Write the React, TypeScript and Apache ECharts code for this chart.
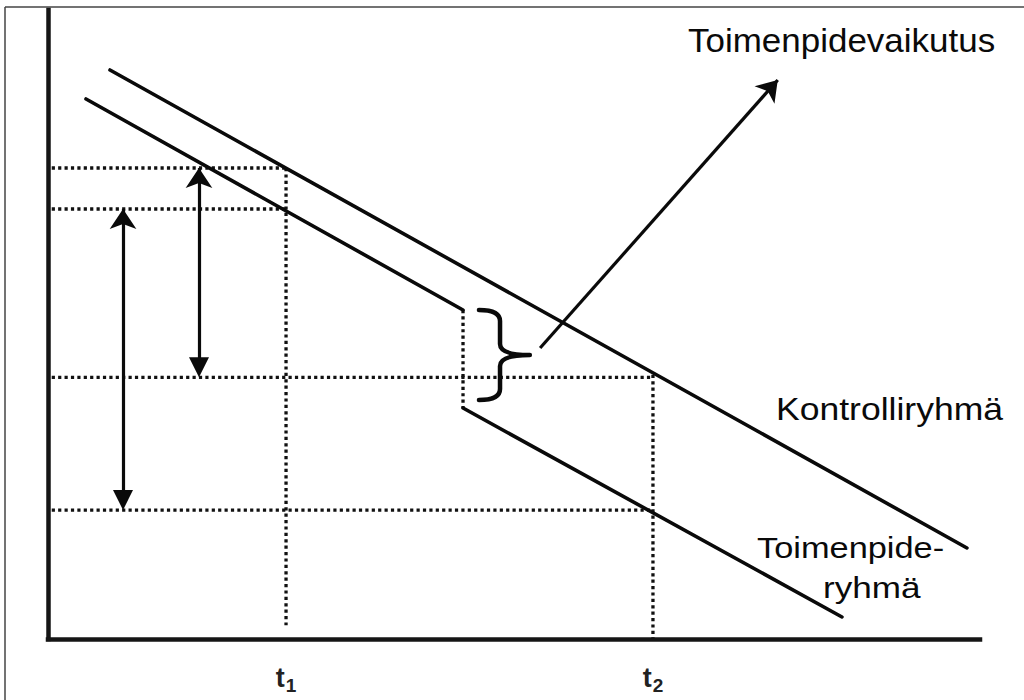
import React, { useEffect, useRef } from "react";
import * as echarts from "echarts";

// ---- data (chart units: x 0..100 time, y 0..100 outcome) ----
const controlX = [6.65, 98.6];
const controlY = [90.46, 14.47];
const treatPreX = [4.08, 44.53];
const treatPreY = [85.85, 52.31];
const treatPostX = [44.53, 85.19];
const treatPostY = [36.72, 3.5];
const timePoints = [25.54, 64.91];
const tickSubscripts = ["1", "2"];
const levelControlT1 = 74.88;
const levelTreatT1 = 68.36;
const levelControlT2 = 41.6;
const levelTreatT2 = 20.5;
const guideStartX = 0.4;
const t1GuideEndY = 2.2;
const diffArrowX = [8.05, 16.2];
const effectArrowFrom = [52.8, 46.26];
const effectArrowTo = [78.3, 88.87];
const braceValues = [46.24, 52.3, 48.5, 51.7, 45.15, 38.0];
const labelControl = "Kontrolliryhmä";
const labelTreat1 = "Toimenpide-";
const labelTreat2 = "ryhmä";
const labelEffect = "Toimenpidevaikutus";

const FONT = "'Liberation Sans', Arial, Helvetica, sans-serif";
const INK = "#0a0a0a";
const DOT = "#111";
const GRID_H = 629; // px height of plot area for 100 y-units
const HEAD = 20; // arrow head size px
const headShift = (HEAD / 2) * (100 / GRID_H);

function solid(name: string, xs: number[], ys: number[]) {
  return {
    name,
    type: "line",
    data: xs.map((x, i) => [x, ys[i]]),
    symbol: "none",
    silent: true,
    lineStyle: { width: 3.6, color: INK, cap: "round" },
    z: 5,
  };
}

function dotted(p1: number[], p2: number[]) {
  return {
    type: "line",
    data: [p1, p2],
    symbol: "none",
    silent: true,
    lineStyle: { width: 3.3, color: DOT, type: [3.2, 3.2], cap: "butt" },
    z: 3,
  };
}

function label(text: string, x: number, baseline: number, size: number, sx: number) {
  return {
    type: "text",
    x,
    y: baseline - size * 0.35,
    scaleX: sx,
    silent: true,
    style: {
      text,
      x: 0,
      y: 0,
      fill: INK,
      font: `${size}px ${FONT}`,
      textAlign: "left",
      textVerticalAlign: "middle",
    },
  };
}

export default function App() {
  const ref = useRef<HTMLDivElement>(null);
  useEffect(() => {
    if (!ref.current) return;
    const chart = echarts.init(ref.current, undefined, { renderer: "svg" });
    const option: any = {
      animation: false,
      backgroundColor: "#fff",
      grid: { left: 48, top: 10, width: 932, height: GRID_H, containLabel: false },
      xAxis: {
        type: "value",
        min: 0,
        max: 100,
        splitLine: { show: false },
        axisTick: { show: false },
        axisLine: { show: true, onZero: false, lineStyle: { color: "#151515", width: 4.5, cap: "square" } },
        axisLabel: {
          show: true,
          customValues: timePoints,
          margin: 22,
          formatter: (v: number) => {
            const i = timePoints.findIndex((t) => Math.abs(t - v) < 1e-6);
            return `{t|t}{s|${tickSubscripts[i] ?? ""}}`;
          },
          rich: {
            t: { fontSize: 27, fontFamily: FONT, fontWeight: "bold", color: "#222", lineHeight: 34, verticalAlign: "middle" },
            s: { fontSize: 19, fontFamily: FONT, fontWeight: "bold", color: "#222", lineHeight: 34, verticalAlign: "bottom", padding: [12, 0, 0, 1] },
          },
        },
      },
      yAxis: {
        type: "value",
        min: 0,
        max: 100,
        splitLine: { show: false },
        axisTick: { show: false },
        axisLabel: { show: false },
        axisLine: { show: true, onZero: false, lineStyle: { color: "#151515", width: 4.5, cap: "square" } },
      },
      series: [
        solid(labelControl, controlX, controlY),
        solid(labelTreat1 + labelTreat2 + " (ennen)", treatPreX, treatPreY),
        solid(labelTreat1 + labelTreat2 + " (jälkeen)", treatPostX, treatPostY),
        dotted([guideStartX, levelControlT1], [timePoints[0], levelControlT1]),
        dotted([guideStartX, levelTreatT1], [timePoints[0], levelTreatT1]),
        dotted([guideStartX, levelControlT2], [timePoints[1], levelControlT2]),
        dotted([guideStartX, levelTreatT2], [timePoints[1], levelTreatT2]),
        dotted([timePoints[0], levelControlT1], [timePoints[0], t1GuideEndY]),
        dotted([timePoints[1], levelControlT2 + 0.4], [timePoints[1], 0]),
        dotted([treatPreX[1], treatPreY[1]], [treatPostX[0], treatPostY[0]]),
        {
          type: "line",
          data: [],
          silent: true,
          markLine: {
            silent: true,
            animation: false,
            label: { show: false },
            emphasis: { disabled: true },
            lineStyle: { color: INK, width: 3.2, type: "solid" },
            symbol: ["arrow", "triangle"],
            symbolSize: HEAD,
            data: [
              [
                { coord: [diffArrowX[0], levelTreatT1] },
                { coord: [diffArrowX[0], levelTreatT2 + headShift] },
              ],
              [
                { coord: [diffArrowX[1], levelControlT1] },
                { coord: [diffArrowX[1], levelControlT2 + headShift] },
              ],
              [
                { coord: effectArrowFrom, symbol: "none" },
                { coord: effectArrowTo, symbol: "arrow", symbolSize: HEAD },
              ],
            ],
          },
        },
        {
          type: "custom",
          silent: true,
          data: [braceValues],
          z: 6,
          renderItem: (_p: any, api: any) => {
            const top = api.coord([api.value(0), api.value(1)]);
            const tip = api.coord([api.value(3), api.value(4)]);
            const bot = api.coord([api.value(0), api.value(5)]);
            const xs = api.coord([api.value(2), 0])[0];
            const r = 11;
            const d =
              `M${top[0]},${top[1]} Q${xs},${top[1]} ${xs},${top[1] + r} ` +
              `L${xs},${tip[1] - r} Q${xs},${tip[1]} ${tip[0]},${tip[1]} ` +
              `Q${xs},${tip[1]} ${xs},${tip[1] + r} ` +
              `L${xs},${bot[1] - r} Q${xs},${bot[1]} ${bot[0]},${bot[1]}`;
            return {
              type: "path",
              shape: { pathData: d },
              style: { fill: "none", stroke: INK, lineWidth: 4.5, lineJoin: "round", lineCap: "round" },
            };
          },
        },
      ],
      graphic: [
        { type: "line", silent: true, shape: { x1: 5, y1: 7, x2: 5, y2: 700 }, style: { stroke: "#444", lineWidth: 1.5 } },
        { type: "line", silent: true, shape: { x1: 5, y1: 7, x2: 1024, y2: 7 }, style: { stroke: "#444", lineWidth: 1.5 } },
        label(labelEffect, 688, 52.3, 33, 1.06),
        label(labelControl, 776, 420, 30.5, 1.165),
        label(labelTreat1, 757, 558, 29.5, 1.165),
        label(labelTreat2, 823, 598, 29.5, 1.19),
      ],
    };
    chart.setOption(option);
    return () => chart.dispose();
  }, []);
  return (
    <div style={{ position: "fixed", left: 0, top: 0, width: 1024, height: 700, background: "#fff" }}>
      <div ref={ref} style={{ width: 1024, height: 700 }} />
    </div>
  );
}
